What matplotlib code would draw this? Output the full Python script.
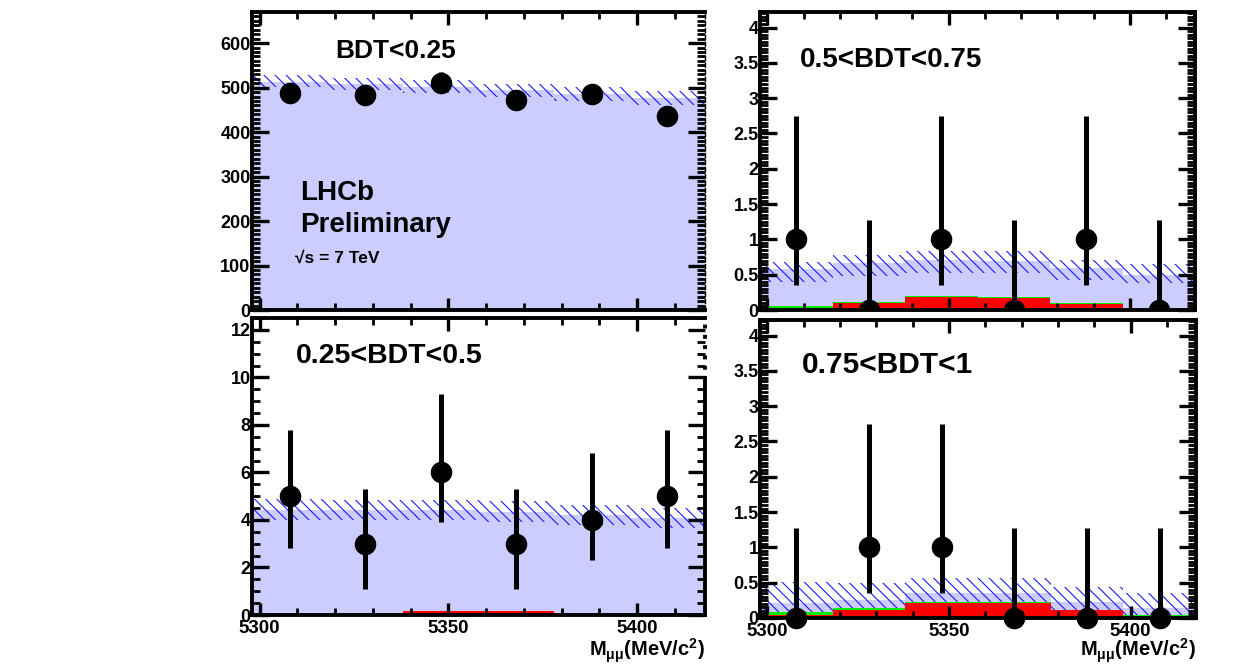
import numpy as np
import matplotlib
matplotlib.use('Agg')
import matplotlib.pyplot as plt
from matplotlib.ticker import MultipleLocator, FuncFormatter

plt.rcParams['font.family'] = ['Liberation Sans', 'DejaVu Sans']
plt.rcParams['font.weight'] = 'bold'
plt.rcParams['hatch.linewidth'] = 0.8
plt.rcParams['mathtext.fontset'] = 'custom'
plt.rcParams['mathtext.rm'] = 'Liberation Sans:bold'
plt.rcParams['mathtext.it'] = 'Liberation Sans'
plt.rcParams['mathtext.bf'] = 'Liberation Sans:bold'

# mass bins (MeV/c2)
edges = [5298, 5318, 5338, 5358, 5378, 5398, 5418]
centers = [5308, 5328, 5348, 5368, 5388, 5408]

# BDT < 0.25
n1 = [487, 483, 511, 472, 485, 437]
n1_elo = [22, 22, 23, 22, 22, 21]
n1_ehi = [22, 22, 23, 22, 22, 21]
bkg1 = [513, 507, 502, 494, 485, 476]
band1_lo = [501, 494, 488, 480, 471, 462]
band1_hi = [528, 522, 517, 509, 502, 492]
green1 = [0.5, 1.0, 1.5, 1.5, 1.0, 0.5]
red1 = [0.3, 0.8, 1.3, 1.3, 0.8, 0.3]

# 0.25 < BDT < 0.5
n2 = [5, 3, 6, 3, 4, 5]
n2_elo = [2.2, 1.9, 2.1, 1.9, 1.7, 2.2]
n2_ehi = [2.8, 2.3, 3.3, 2.3, 2.8, 2.8]
bkg2 = [4.42, 4.42, 4.42, 4.35, 4.21, 4.07]
band2_lo = [4.0, 4.0, 4.0, 3.93, 3.80, 3.66]
band2_hi = [4.88, 4.86, 4.85, 4.78, 4.63, 4.49]
green2 = [0.03, 0.07, 0.18, 0.18, 0.08, 0.015]
red2 = [0.01, 0.05, 0.17, 0.17, 0.07, 0.01]

# 0.5 < BDT < 0.75
n3 = [1, 0, 1, 0, 1, 0]
n3_elo = [0.64, 0, 0.64, 0, 0.64, 0]
n3_ehi = [1.75, 1.27, 1.75, 1.27, 1.75, 1.27]
bkg3 = [0.58, 0.67, 0.71, 0.70, 0.60, 0.50]
band3_lo = [0.40, 0.48, 0.52, 0.52, 0.43, 0.38]
band3_hi = [0.685, 0.78, 0.84, 0.83, 0.71, 0.65]
green3 = [0.06, 0.118, 0.198, 0.185, 0.104, 0.02]
red3 = [0.005, 0.104, 0.182, 0.177, 0.088, 0.012]

# 0.75 < BDT < 1
n4 = [0, 1, 1, 0, 0, 0]
n4_elo = [0, 0.64, 0.64, 0, 0, 0]
n4_ehi = [1.27, 1.75, 1.75, 1.27, 1.27, 1.27]
bkg4 = [0.21, 0.25, 0.35, 0.35, 0.22, 0.14]
band4_lo = [0.0, 0.03, 0.14, 0.14, 0.0, 0.0]
band4_hi = [0.51, 0.49, 0.56, 0.56, 0.44, 0.35]
green4 = [0.08, 0.137, 0.228, 0.228, 0.12, 0.045]
red4 = [0.04, 0.113, 0.21, 0.21, 0.11, 0.035]


def st(v):
    return np.append(v, v[-1])


def draw_panel(ax, n, elo, ehi, bkg, blo, bhi, green, red, ymax, major, minor, clip=True):
    ax.fill_between(edges, 0, st(bkg), step='post', color='#ccccff', lw=0, zorder=0.5)
    ax.fill_between(edges, st(blo), st(bhi), step='post', facecolor='none',
                    edgecolor='#1a1aff', hatch='\\\\\\', lw=0, zorder=0.6)
    ax.fill_between(edges, 0, st(green), step='post', color='#00ee00', lw=0, zorder=0.7)
    ax.fill_between(edges, 0, st(red), step='post', color='#ff0000', lw=0, zorder=0.8)
    ax.errorbar(centers, n, yerr=[elo, ehi], fmt='none', ecolor='black',
                elinewidth=3.6, capsize=0, zorder=3, clip_on=clip)
    ax.plot(centers, n, 'o', color='black', ms=14.5, zorder=3.1, clip_on=clip)

    ax.set_xlim(edges[0], edges[-1])
    ax.set_ylim(0, ymax)
    ax.set_axisbelow(False)
    ax.xaxis.set_major_locator(MultipleLocator(50))
    ax.xaxis.set_minor_locator(MultipleLocator(10))
    ax.yaxis.set_major_locator(MultipleLocator(major))
    ax.yaxis.set_minor_locator(MultipleLocator(minor))
    ax.yaxis.set_major_formatter(FuncFormatter(lambda v, p: '%g' % v))
    ax.tick_params(which='both', direction='in', top=True, right=True,
                   labelsize=13, colors='black')
    ax.tick_params(axis='y', which='major', length=12, width=2.4, pad=1)
    ax.tick_params(axis='y', which='minor', length=6, width=2.0)
    ax.tick_params(axis='x', which='major', length=9, width=2.4, pad=3.5, labelsize=13.5)
    ax.tick_params(axis='x', which='minor', length=5, width=2.0)
    for s in ax.spines.values():
        s.set_linewidth(2.8)


fig = plt.figure(figsize=(12.58, 6.66), dpi=100)
W, H = 1258.0, 666.0


def add_ax(l, r, t, b):
    return fig.add_axes([l / W, 1 - b / H, (r - l) / W, (b - t) / H])


ax_tl = add_ax(252, 705, 12, 310)
ax_tr = add_ax(760, 1195, 12, 310)
ax_bl = add_ax(252, 705, 318, 615)
ax_br = add_ax(760, 1196, 320, 618)

draw_panel(ax_tl, n1, n1_elo, n1_ehi, bkg1, band1_lo, band1_hi, green1, red1, 670, 100, 10)
draw_panel(ax_tr, n3, n3_elo, n3_ehi, bkg3, band3_lo, band3_hi, green3, red3, 4.22, 0.5, 0.05)
draw_panel(ax_bl, n2, n2_elo, n2_ehi, bkg2, band2_lo, band2_hi, green2, red2, 12.5, 2, 0.5)
draw_panel(ax_br, n4, n4_elo, n4_ehi, bkg4, band4_lo, band4_hi, green4, red4, 4.22, 0.5, 0.05, clip=False)

for ax in (ax_tl, ax_tr):
    ax.tick_params(labelbottom=False)

# broken right edges on the left column
ax_tl.spines['right'].set_linestyle((0, (3, 2)))
ax_tl.spines['right'].set_linewidth(1.0)
ax_bl.spines['right'].set_bounds(0, 9.9)
ax_bl.plot([edges[-1], edges[-1]], [9.9, 12.5], ls=':', lw=2.8, color='black',
           clip_on=False, zorder=4)

ax_tl.text(0.183, 0.845, 'BDT<0.25', transform=ax_tl.transAxes, fontsize=19,
           fontweight='bold', va='baseline')
ax_tr.text(0.092, 0.816, '0.5<BDT<0.75', transform=ax_tr.transAxes, fontsize=20,
           fontweight='bold', va='baseline')
ax_bl.text(0.097, 0.847, '0.25<BDT<0.5', transform=ax_bl.transAxes, fontsize=20.5,
           fontweight='bold', va='baseline')
ax_br.text(0.097, 0.821, '0.75<BDT<1', transform=ax_br.transAxes, fontsize=21.5,
           fontweight='bold', va='baseline')

ax_tl.text(0.106, 0.369, 'LHCb', transform=ax_tl.transAxes, fontsize=20,
           fontweight='bold', va='baseline')
ax_tl.text(0.106, 0.263, 'Preliminary', transform=ax_tl.transAxes, fontsize=20,
           fontweight='bold', va='baseline')
ax_tl.text(0.095, 0.157, '√s = 7 TeV', transform=ax_tl.transAxes, fontsize=12.5,
           fontweight='bold', va='baseline')

xlab = r'M$_{\mathit{\mu\mu}}$(MeV/c$^{2}$)'
ax_bl.text(1.0, -0.139, xlab, transform=ax_bl.transAxes, fontsize=14.5,
           fontweight='bold', ha='right', va='baseline')
ax_br.text(1.0, -0.128, xlab, transform=ax_br.transAxes, fontsize=14.5,
           fontweight='bold', ha='right', va='baseline')

fig.savefig('out.png', dpi=100)
